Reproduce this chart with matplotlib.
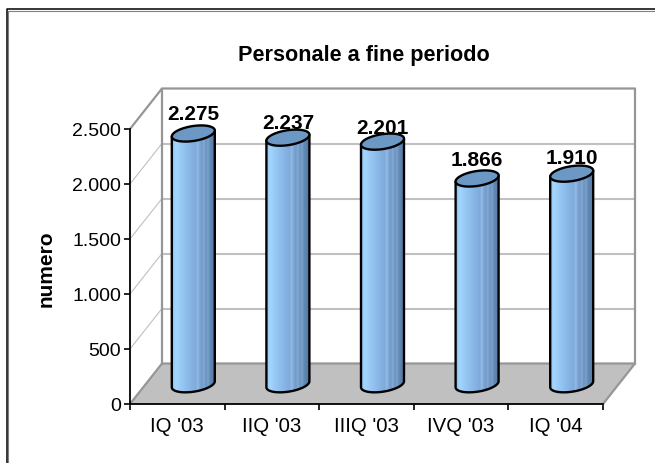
import numpy as np
from matplotlib import pyplot as plt
from matplotlib.patches import Polygon
from matplotlib.lines import Line2D

categories = ["IQ '03", "IIQ '03", "IIIQ '03", "IVQ '03", "IQ '04"]
personale = [2275, 2237, 2201, 1866, 1910]
value_labels = ["2.275", "2.237", "2.201", "1.866", "1.910"]
y_ticks = [0, 500, 1000, 1500, 2000, 2500]
y_tick_labels = ["0", "500", "1.000", "1.500", "2.000", "2.500"]

W, H = 655, 464
plt.rcParams['font.family'] = ['Liberation Sans', 'DejaVu Sans']

fig = plt.figure(figsize=(W / 100, H / 100), dpi=100)
fig.patch.set_facecolor('white')

# only the top and left edge of the chart frame are in the picture
frame_x = [6.5 / W, 6.5 / W, 1]
frame_y = [0, 1 - 10 / H, 1 - 10 / H]
fig.add_artist(Line2D([f + 1.5 / W for f in frame_x[:2]] + [1],
                      [0, frame_y[1] - 1.5 / H, frame_y[2] - 1.5 / H], color='#808080', lw=0.8))
fig.add_artist(Line2D(frame_x, frame_y, color='black', lw=1.1))

left, right, bottom, top = 130, 603, 405, 130
ax = fig.add_axes([left / W, 1 - bottom / H, (right - left) / W, (bottom - top) / H])
ax.patch.set_alpha(0)
for s in ['top', 'right']:
    ax.spines[s].set_visible(False)
for s in ['left', 'bottom']:
    ax.spines[s].set_linewidth(1.3)
    ax.spines[s].set_zorder(6)

# pixels to data units, and the depth of the 3d box
px_x = 5 / (right - left)
px_y = 2500 / (bottom - top)
dx = 32 * px_x
dy = 40.5 * px_y
WALL = '#969696'
GRID = '#c0c0c0'

ax.add_patch(Polygon([(0, 0), (5, 0), (5 + dx, dy), (dx, dy)], fc='#c0c0c0', ec='none',
                     clip_on=False, zorder=1))
for v in y_ticks[1:-1]:
    ax.plot([dx, 5 + dx], [v + dy, v + dy], color=GRID, lw=1.5, clip_on=False, zorder=1)
    ax.plot([0, dx], [v, v + dy], color=GRID, lw=0.8, clip_on=False, zorder=1)
ax.plot([0, dx, 5 + dx, 5], [0, dy, dy, 0], color=WALL, lw=1.6, clip_on=False, zorder=2)
ax.plot([0, dx, 5 + dx, 5 + dx], [2500, 2500 + dy, 2500 + dy, dy], color=WALL, lw=1.6,
        clip_on=False, zorder=2)
ax.plot([dx, dx], [dy, 2500 + dy], color=WALL, lw=1.6, clip_on=False, zorder=2)

# horizontal shading of the cylinders, with the light streaks of the original
stops = [0, 0.08, 0.2, 0.45, 0.56, 0.6, 0.64, 0.7, 0.74, 0.8, 0.84, 0.9, 1]
reds = [0.55, 0.64, 0.60, 0.52, 0.50, 0.58, 0.50, 0.45, 0.52, 0.42, 0.48, 0.38, 0.34]
greens = [0.76, 0.84, 0.79, 0.70, 0.67, 0.74, 0.66, 0.60, 0.67, 0.57, 0.63, 0.53, 0.48]
blues = [0.95, 0.99, 0.96, 0.89, 0.85, 0.91, 0.84, 0.78, 0.84, 0.75, 0.80, 0.70, 0.64]
g = np.linspace(0, 1, 64)
gradient = np.dstack([np.interp(g, stops, reds), np.interp(g, stops, greens),
                      np.interp(g, stops, blues)])

a, s, b = 21.5 * px_x, 3 * px_y, 7.5 * px_y
t = np.linspace(0, 2 * np.pi, 121)
lower = np.linspace(np.pi, 2 * np.pi, 61)
label_gaps = [10, 6, 5, 9, 7]

for i, val in enumerate(personale):
    cx = i + 0.5 + dx / 2
    y0 = dy / 2 - 0.5 * px_y
    y1 = val + dy / 2
    body = [(cx + a * np.cos(q), y0 + s * np.cos(q) + b * np.sin(q)) for q in lower]
    body += [(cx + a, y1 + s), (cx - a, y1 - s)]
    poly = Polygon(body, fc='none', ec='black', lw=1.7, clip_on=False, zorder=4, joinstyle='round')
    ax.add_patch(poly)
    im = ax.imshow(gradient, extent=(cx - a, cx + a, y0 - 200, y1 + 200), aspect='auto', zorder=3)
    im.set_clip_path(poly)
    cap = np.column_stack([cx + a * np.cos(t), y1 + s * np.cos(t) + b * np.sin(t)])
    ax.add_patch(Polygon(cap, fc='#6c98c6', ec='black', lw=1.7, clip_on=False, zorder=5))
    ax.text(cx, y1 + label_gaps[i] * px_y, value_labels[i], ha='center', va='bottom', fontsize=15,
            fontweight='bold', zorder=7, clip_on=False)

ax.set_xlim(0, 5)
ax.set_ylim(0, 2500)
ax.set_xticks(range(6))
ax.set_xticklabels([])
ax.set_xticks(np.arange(5) + 0.5, categories, minor=True)
ax.tick_params(axis='x', which='major', length=4, width=1.2, direction='out')
ax.tick_params(axis='x', which='minor', length=0, labelsize=14.7, pad=9)
ax.set_yticks(y_ticks, y_tick_labels)
ax.tick_params(axis='y', length=4, width=1.2, labelsize=14, pad=2.5)

fig.text(363.5 / W, 1 - 55 / H, 'Personale a fine periodo', ha='center', va='center',
         fontsize=15.6, fontweight='bold')
fig.text(46 / W, 1 - 269 / H, 'numero', ha='center', va='center', rotation=90,
         fontsize=15, fontweight='bold')

fig.savefig('out.png', dpi=100)
